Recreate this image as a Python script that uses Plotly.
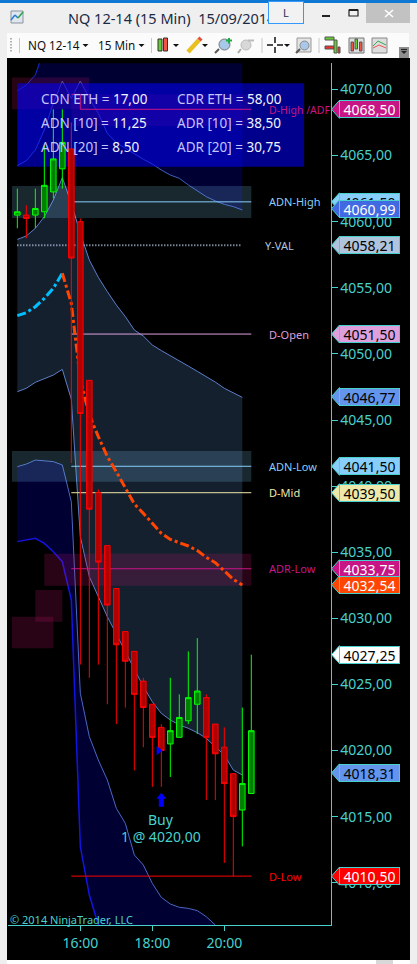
import plotly.graph_objects as go

W, H = 417, 964
DAY = "2014-09-15 "

BAR_TIMES = ["14:15","14:30","14:45","15:00","15:15","15:30","15:45","16:00","16:15","16:30",
             "16:45","17:00","17:15","17:30","17:45","18:00","18:15","18:30","18:45","19:00",
             "19:15","19:30","19:45","20:00","20:15","20:30","20:45"]
OPEN  = [4060.50,4060.50,4060.50,4060.75,4062.25,4064.00,4065.50,4060.00,4048.00,4039.50,
         4035.50,4032.25,4029.00,4027.50,4025.25,4023.50,4021.75,4020.50,4021.00,4022.25,
         4023.50,4024.00,4022.00,4020.25,4018.25,4015.50,4016.75]
HIGH  = [4062.50,4061.25,4062.50,4065.75,4068.50,4068.50,4067.50,4060.25,4048.00,4039.75,
         4035.50,4032.25,4029.00,4027.50,4025.50,4023.50,4022.00,4025.50,4024.25,4027.50,
         4028.50,4024.25,4022.00,4021.75,4018.25,4023.25,4027.25]
LOW   = [4059.50,4058.75,4059.50,4060.25,4061.75,4062.50,4041.75,4026.50,4025.50,4026.50,
         4023.50,4022.00,4023.25,4018.50,4020.25,4017.25,4017.25,4018.00,4021.00,4022.00,
         4021.25,4016.25,4016.25,4011.50,4010.50,4012.75,4016.75]
CLOSE = [4060.75,4060.25,4061.00,4062.75,4064.75,4066.00,4057.25,4045.50,4038.25,4034.25,
         4031.00,4028.00,4026.75,4024.25,4023.25,4021.00,4020.00,4021.50,4022.50,4024.00,
         4024.50,4021.00,4019.75,4017.50,4015.00,4017.50,4021.50]

BAND_TOP = [4069.91,4070.34,4071.10,4073.00,4075.00,4076.00,4077.00,4077.50,4078.00,4078.00,
            4078.00,4078.00,4078.00,4078.00,4078.00,4078.00,4078.00,4078.00,4078.00,4078.00,
            4078.00,4078.00,4078.00,4078.00,4078.00,4078.00]
BAND_UPPER = [4064.24,4064.62,4065.42,4066.94,4068.95,4070.64,4069.33,4070.64,4069.33,4068.20,
              4066.68,4065.98,4065.55,4065.12,4064.72,4064.36,4063.91,4063.53,4063.28,4062.78,
              4062.32,4061.89,4061.57,4061.31,4061.14,4060.89]
MID_UP = [4058.66,4058.92,4059.50,4060.38,4061.64,4063.33,4061.39,4059.12,4057.10,4055.79,
          4054.71,4053.70,4052.82,4051.81,4051.35,4050.67,4050.25,4049.84,4049.49,4049.08,
          4048.68,4048.28,4047.87,4047.40,4047.07,4046.71]
MID_LOW = [4047.14,4047.40,4047.85,4048.13,4048.40,4048.83,4046.56,4036.18,4033.15,4031.64,
           4030.12,4028.81,4027.48,4026.14,4024.83,4023.69,4022.81,4022.31,4021.93,4021.68,
           4021.35,4020.92,4020.29,4019.66,4018.52,4018.15]
LOW_UP = [4041.47,4041.67,4041.97,4041.90,4041.85,4041.60,4038.82,4024.33,4021.05,4019.28,
          4017.77,4015.63,4014.49,4012.10,4011.34,4009.95,4008.89,4008.39,4008.14,4008.06,
          4007.89,4007.43,4006.80,4005.67,4004.66,4003.90]
LOW_LOW = [4035.80,4035.92,4036.05,4035.67,4035.04,4034.28,4031.38,4012.73,4009.07,4006.80,
           4003.00,4000.00,3998.00,3996.00,3994.00,3992.00,3990.00,3988.00,3986.00,3985.00,
           3984.00,3983.00,3982.00,3981.00,3980.00,3979.00]
VWAP = [4052.89,4053.12,4053.57,4054.20,4054.96,4056.10,4053.82,4048.03,4045.38,4043.74,
        4042.23,4041.09,4039.91,4038.65,4037.94,4037.19,4036.43,4035.97,4035.72,4035.47,
        4035.12,4034.61,4034.21,4033.61,4032.95,4032.52]

# zones: left time, right time, lower price, upper price, colour
ZONES = [
    ("14:06","16:15",4068.50,4070.90,"rgba(199,21,100,0.20)"),
    ("15:45","20:45",4067.24,4069.63,"rgba(199,21,100,0.20)"),
    ("14:06","20:45",4060.28,4062.70,"rgba(135,206,250,0.19)"),
    ("14:06","20:45",4040.33,4042.65,"rgba(135,206,250,0.19)"),
    ("15:00","20:45",4032.47,4034.89,"rgba(199,21,110,0.20)"),
    ("14:45","15:30",4029.74,4032.14,"rgba(199,21,110,0.20)"),
    ("14:06","15:15",4027.73,4030.12,"rgba(199,21,110,0.20)"),
]
LEVELS = [
    ("ADN-High",4061.50,"#87cefa"),
    ("D-Open",4051.50,"#dda0dd"),
    ("ADN-Low",4041.50,"#87cefa"),
    ("D-Mid",4039.50,"#eee8aa"),
    ("ADR-Low",4033.75,"#c71585"),
    ("D-Low",4010.50,"#ff0000"),
]
DHIGH_T = ["15:45","16:00","16:00","20:45"]
DHIGH_P = [4069.63,4069.63,4068.50,4068.50]
YVAL = 4058.21
MARKERS = [
    ("4068,50",4068.50,"#c71585","#ffffff"),
    ("4061,50",4061.50,"#87cefa","#000000"),
    ("4060,99",4060.99,"#4169e1","#ffffff"),
    ("4058,21",4058.21,"#b0c4de","#000000"),
    ("4051,50",4051.50,"#dda0dd","#000000"),
    ("4046,77",4046.77,"#6495ed","#000000"),
    ("4041,50",4041.50,"#87cefa","#000000"),
    ("4039,50",4039.50,"#eee8aa","#000000"),
    ("4033,75",4033.75,"#c71585","#ffffff"),
    ("4032,54",4032.54,"#ff4500","#ffffff"),
    ("4027,25",4027.25,"#ffffff","#000000"),
    ("4018,31",4018.31,"#6495ed","#000000"),
    ("4010,50",4010.50,"#ff0000","#ffffff"),
]
INFO = [("CDN ETH =","17,00","CDR ETH =","58,00",99),
        ("ADN [10] =","11,25","ADR [10] =","38,50",123),
        ("ADN [20] =","8,50","ADR [20] =","30,75",147)]
XTICKS = ["16:00","18:00","20:00"]

TEAL = "#48d1cc"
FONT = "Noto Sans"
T = [DAY + t for t in BAR_TIMES]
TB = T[:26]

fig = go.Figure()
def band(y, color, fill=None, fillcolor=None, width=1):
    fig.add_trace(go.Scatter(x=TB, y=y, mode="lines", line=dict(color=color, width=width),
                             fill=fill, fillcolor=fillcolor, hoverinfo="skip"))
band(BAND_TOP, "#1a2fd8")
band(BAND_UPPER, "#3f5fc0", "tonexty", "#000033")
band(MID_UP, "#5b7fc8")
band(MID_LOW, "#5b7fc8", "tonexty", "#15202f")
band(LOW_UP, "#4a68c0")
band(LOW_LOW, "#1414e0", "tonexty", "#000033", 1.5)

for t0, t1, p0, p1, c in ZONES:
    fig.add_trace(go.Scatter(x=[DAY+t0, DAY+t1, DAY+t1, DAY+t0, DAY+t0], y=[p0, p0, p1, p1, p0],
                             mode="lines", line=dict(width=0), fill="toself", fillcolor=c, hoverinfo="skip"))
# info box
fig.add_trace(go.Scatter(x=[T[0], DAY+"22:13", DAY+"22:13", T[0], T[0]],
                         y=[4064.16, 4064.16, 4070.47, 4070.47, 4064.16],
                         mode="lines", line=dict(width=0), fill="toself",
                         fillcolor="rgba(0,0,255,0.55)", hoverinfo="skip"))

fig.add_trace(go.Scatter(x=[DAY+t for t in DHIGH_T], y=DHIGH_P, mode="lines",
                         line=dict(color="#c71585", width=1), hoverinfo="skip"))
for name, p, c in LEVELS:
    fig.add_trace(go.Scatter(x=[T[6], T[26]], y=[p, p], mode="lines",
                             line=dict(color=c, width=1), hoverinfo="skip"))
fig.add_trace(go.Scatter(x=[T[0], T[25]], y=[YVAL, YVAL], mode="lines",
                         line=dict(color="#b0c4de", width=2, dash="1px,2px"), hoverinfo="skip"))

fig.add_trace(go.Scatter(x=TB[:6], y=VWAP[:6], mode="lines",
                         line=dict(color="#00bfff", width=3, dash="9px,3px,3px,3px"), hoverinfo="skip"))
fig.add_trace(go.Scatter(x=TB[5:], y=VWAP[5:], mode="lines",
                         line=dict(color="#ff4500", width=3, dash="9px,3px,3px,3px"), hoverinfo="skip"))

# candles sit on an overlay subplot so they draw above the filled bands
fig.add_trace(go.Candlestick(
    x=T, open=OPEN, high=HIGH, low=LOW, close=CLOSE, hoverinfo="skip", xaxis="x2", yaxis="y2",
    increasing=dict(line=dict(color="#00ff00", width=1), fillcolor="#008000"),
    decreasing=dict(line=dict(color="#ff0000", width=1), fillcolor="#b00000")))

# execution marker
fig.add_trace(go.Scatter(x=[DAY+"18:10:30"], y=[4020.0], mode="markers", hoverinfo="skip", xaxis="x2", yaxis="y2",
                         marker=dict(symbol="triangle-right", color="#0000ff", size=8)))

shapes = []
ann = []
def px(x): return x / W
def py(y): return 1 - y / H
def rect(x0, y0, x1, y1, fill, line=None, lw=1, layer="below"):
    shapes.append(dict(type="rect", xref="paper", yref="paper", x0=px(x0), x1=px(x1), y0=py(y0), y1=py(y1),
                       fillcolor=fill, line=dict(color=line or fill, width=lw if line else 0), layer=layer))
def seg(x0, y0, x1, y1, c, lw=1, layer="below"):
    shapes.append(dict(type="line", xref="paper", yref="paper", x0=px(x0), x1=px(x1), y0=py(y0), y1=py(y1),
                       line=dict(color=c, width=lw), layer=layer))
def tri(x, y, c="#111111", s=3):
    pts = f"M {px(x-s)} {py(y-1)} L {px(x+s)} {py(y-1)} L {px(x)} {py(y+2)} Z"
    shapes.append(dict(type="path", xref="paper", yref="paper", path=pts, fillcolor=c, line=dict(width=0), layer="below"))
def text(x, y, s, size=12, color="#111111", anchor="left", **kw):
    ann.append(dict(xref="paper", yref="paper", x=px(x), y=py(y), text=s, showarrow=False, xanchor=anchor,
                    yanchor="middle", font=dict(family=FONT, size=size, color=color), borderpad=0, **kw))

# window chrome
rect(0, 0, W, H, "#efefef")
rect(0, 0, W, 3, "#0f78d2")
rect(7, 33, 409, 58, "#fbfbfb")
rect(7, 58, 410, 960, "#000000")
rect(7, 960, 410, H, "#ffffff")
rect(376, 960, 393, H, "#d8d8d8")
# title icon
rect(11, 11, 23, 23, "#dfe6ee", "#8a93a0")
seg(11, 20, 15, 15, "#2a7bd0", 1.5); seg(15, 15, 18, 18, "#2a7bd0", 1.5); seg(18, 18, 23, 12, "#2fa34a", 1.5)
# title-bar controls
rect(366, 3, 410, 23, "#c2c2c2")
seg(385, 10, 393, 17, "#ffffff", 1.5); seg(385, 17, 393, 10, "#ffffff", 1.5)
rect(322, 15, 330, 17, "#222222")
rect(349, 10, 358, 16, "#f0f0f0", "#222222", 1.2)
rect(349, 9, 358, 11, "#222222")
# toolbar
for yy in (38, 41, 44, 47, 50):
    rect(10, yy, 12, yy+1.5, "#b0b0b0")
for xx in (19.5, 151.5, 262, 319):
    seg(xx, 38, xx, 53, "#c8c8c8")
tri(85.5, 45); tri(141.5, 45); tri(176, 45); tri(205, 45); tri(287, 45)
# candle icon
rect(158, 39, 162, 51, "#66cc33", "#333333"); rect(163.5, 38, 167.5, 51, "#ee5544", "#333333")
# pencil
seg(188, 52, 199, 40, "#e8c020", 4.5); seg(199, 40, 201, 38, "#e05040", 4.5)
# magnifiers
shapes.append(dict(type="circle", xref="paper", yref="paper", x0=px(219), x1=px(230), y0=py(50), y1=py(39),
                   fillcolor="#a8c8ea", line=dict(color="#777777", width=1), layer="below"))
seg(219, 49, 215, 53, "#555555", 2)
seg(226, 40.5, 232, 40.5, "#22aa44", 2); seg(229, 38, 229, 43.5, "#22aa44", 2)
shapes.append(dict(type="circle", xref="paper", yref="paper", x0=px(241), x1=px(251), y0=py(50), y1=py(40),
                   fillcolor="#d8d8d8", line=dict(color="#bbbbbb", width=1), layer="below"))
seg(241, 49, 238, 53, "#aaaaaa", 2); seg(248, 40.5, 254, 40.5, "#bbbbbb", 2)
# crosshair
seg(267, 45, 273, 45, "#111111", 1.5); seg(277, 45, 283, 45, "#111111", 1.5)
seg(275, 37, 275, 43, "#111111", 1.5); seg(275, 47, 275, 53, "#111111", 1.5)
# zoom box
rect(297, 38, 311, 52, "#e4e4e4", "#999999")
shapes.append(dict(type="circle", xref="paper", yref="paper", x0=px(300), x1=px(309), y0=py(50), y1=py(41),
                   fillcolor="#a8c8ea", line=dict(color="#888888", width=1), layer="below"))
seg(300, 49, 296, 53, "#555555", 2)
# right icons
rect(325, 37, 334, 40, "#66cc33", "#555555"); rect(325, 46, 334, 49, "#ee3333", "#555555")
rect(334, 40, 337, 53, "#66cc33", "#555555"); rect(338, 47, 340, 53, "#ee3333", "#555555")
rect(349, 38, 364, 53, "#dddddd", "#777777")
rect(351, 42, 353.5, 51, "#ee5544", "#555555"); rect(355, 39, 357.5, 49, "#66cc33", "#555555"); rect(359.5, 42, 362, 51, "#ee5544", "#555555")
rect(372, 38, 387, 53, "#dddddd", "#888888")
seg(373, 46, 378, 41, "#33aa55", 1); seg(378, 41, 386, 45, "#33aa55", 1)
seg(373, 48, 379, 45, "#ee5555", 1); seg(379, 45, 386, 48, "#ee5555", 1)
# toolbar overflow
rect(399, 47, 409, 58, "#8f8f8f")
seg(401, 49.5, 407, 49.5, "#222222", 1.2); tri(404, 52, "#222222", 3)

text(67, 18, "NQ 12-14 (15 Min)  15/09/2014", 14.5, "#1a2a44")
ann.append(dict(xref="paper", yref="paper", x=px(286), y=py(13), text="L", showarrow=False, xanchor="center",
                yanchor="middle", width=32, height=19, bgcolor="#f2f2f2", bordercolor="#3399ff", borderwidth=1,
                font=dict(family=FONT, size=11, color="#223355")))
text(27, 45, "NQ 12-14", 11.7); text(97, 45, "15 Min", 11.7)

# level labels
for name, p, c in LEVELS:
    ann.append(dict(xref="paper", yref="y", x=px(266.5), y=p, text=name, showarrow=False, xanchor="left",
                    yanchor="middle", font=dict(family=FONT, size=11, color=c)))
ann.append(dict(xref="paper", yref="y", x=px(266.5), y=4068.45, text="D-High /ADF", showarrow=False, xanchor="left",
                yanchor="middle", font=dict(family=FONT, size=10.5, color="#c71585")))
ann.append(dict(xref="paper", yref="y", x=px(262.5), y=YVAL, text="Y-VAL", showarrow=False, xanchor="left",
                yanchor="middle", font=dict(family=FONT, size=11, color="#b0c4de")))

# price markers
for s, p, bg, fg in MARKERS:
    shapes.append(dict(type="path", xref="paper", yref="y", xsizemode="pixel", ysizemode="pixel",
                       xanchor=px(331.5), yanchor=p, path="M 0 0 L 8 9 L 8 -9 Z",
                       fillcolor=bg, line=dict(color=TEAL, width=1), layer="above"))
    ann.append(dict(xref="paper", yref="y", x=px(339), y=p, text=s, showarrow=False, xanchor="left", yanchor="middle",
                    width=59, height=16, bgcolor=bg, bordercolor=TEAL, borderwidth=1, borderpad=0,
                    font=dict(family=FONT, size=14, color=fg)))

# info box text
for a, b, c, d, y in INFO:
    text(40, y, f"<span style='color:#c4c4ff'>{a}</span> {b}", 13.5, "#f0f4ff")
    text(176, y, f"<span style='color:#c4c4ff'>{c}</span> {d}", 13.5, "#f0f4ff")

# trade arrow
shapes.append(dict(type="path", xref="x", yref="y", xsizemode="pixel", ysizemode="pixel",
                   xanchor=DAY+"18:15", yanchor=4016.8,
                   path="M 0 0 L 5 -6 L 2.5 -6 L 2.5 -14 L -2.5 -14 L -2.5 -6 L -5 -6 Z",
                   fillcolor="#0000ff", line=dict(width=0), layer="above"))
for s, p in (("Buy", 4014.75), ("1 @ 4020,00", 4013.5)):
    ann.append(dict(x=DAY+"18:15", y=p, xref="x", yref="y", text=s, showarrow=False, xanchor="center", yanchor="middle",
                    font=dict(family=FONT, size=14, color=TEAL)))
text(8.5, 919, "© 2014 NinjaTrader, LLC", 11, TEAL)

XDOM = [8/W, 330.5/W]
YDOM = [1-925.3/H, 1-63.3/H]
XRANGE = [DAY+"13:59:27", DAY+"22:57:00"]
YRANGE = [4006.78, 4071.98]
fig.update_layout(
    width=W, height=H, margin=dict(l=0, r=0, t=0, b=0), showlegend=False,
    paper_bgcolor="#efefef", plot_bgcolor="rgba(0,0,0,0)", separators=",.", boxgap=0.12,
    shapes=shapes, annotations=ann, font=dict(family=FONT),
    xaxis=dict(type="date", domain=XDOM, range=XRANGE, rangeslider=dict(visible=False),
               tickvals=[DAY+t for t in XTICKS], ticktext=XTICKS, ticks="outside", ticklen=5, tickcolor=TEAL,
               tickfont=dict(family=FONT, size=14, color=TEAL), showgrid=False, zeroline=False,
               showline=True, linecolor=TEAL, linewidth=1, anchor="y"),
    yaxis=dict(domain=YDOM, range=YRANGE, side="right", dtick=5, tick0=4010, tickformat=".2f",
               ticks="outside", ticklen=6, tickcolor=TEAL, tickfont=dict(family=FONT, size=14, color=TEAL),
               showgrid=False, zeroline=False, showline=True, linecolor=TEAL, linewidth=1, anchor="x"),
    xaxis2=dict(type="date", overlaying="x", range=XRANGE, visible=False, rangeslider=dict(visible=False), anchor="y2"),
    yaxis2=dict(overlaying="y", range=YRANGE, visible=False, anchor="x2"),
)
fig.write_html("out.html", config=dict(displayModeBar=False),
               post_script="document.body.style.margin='0';document.body.style.overflow='hidden';")
